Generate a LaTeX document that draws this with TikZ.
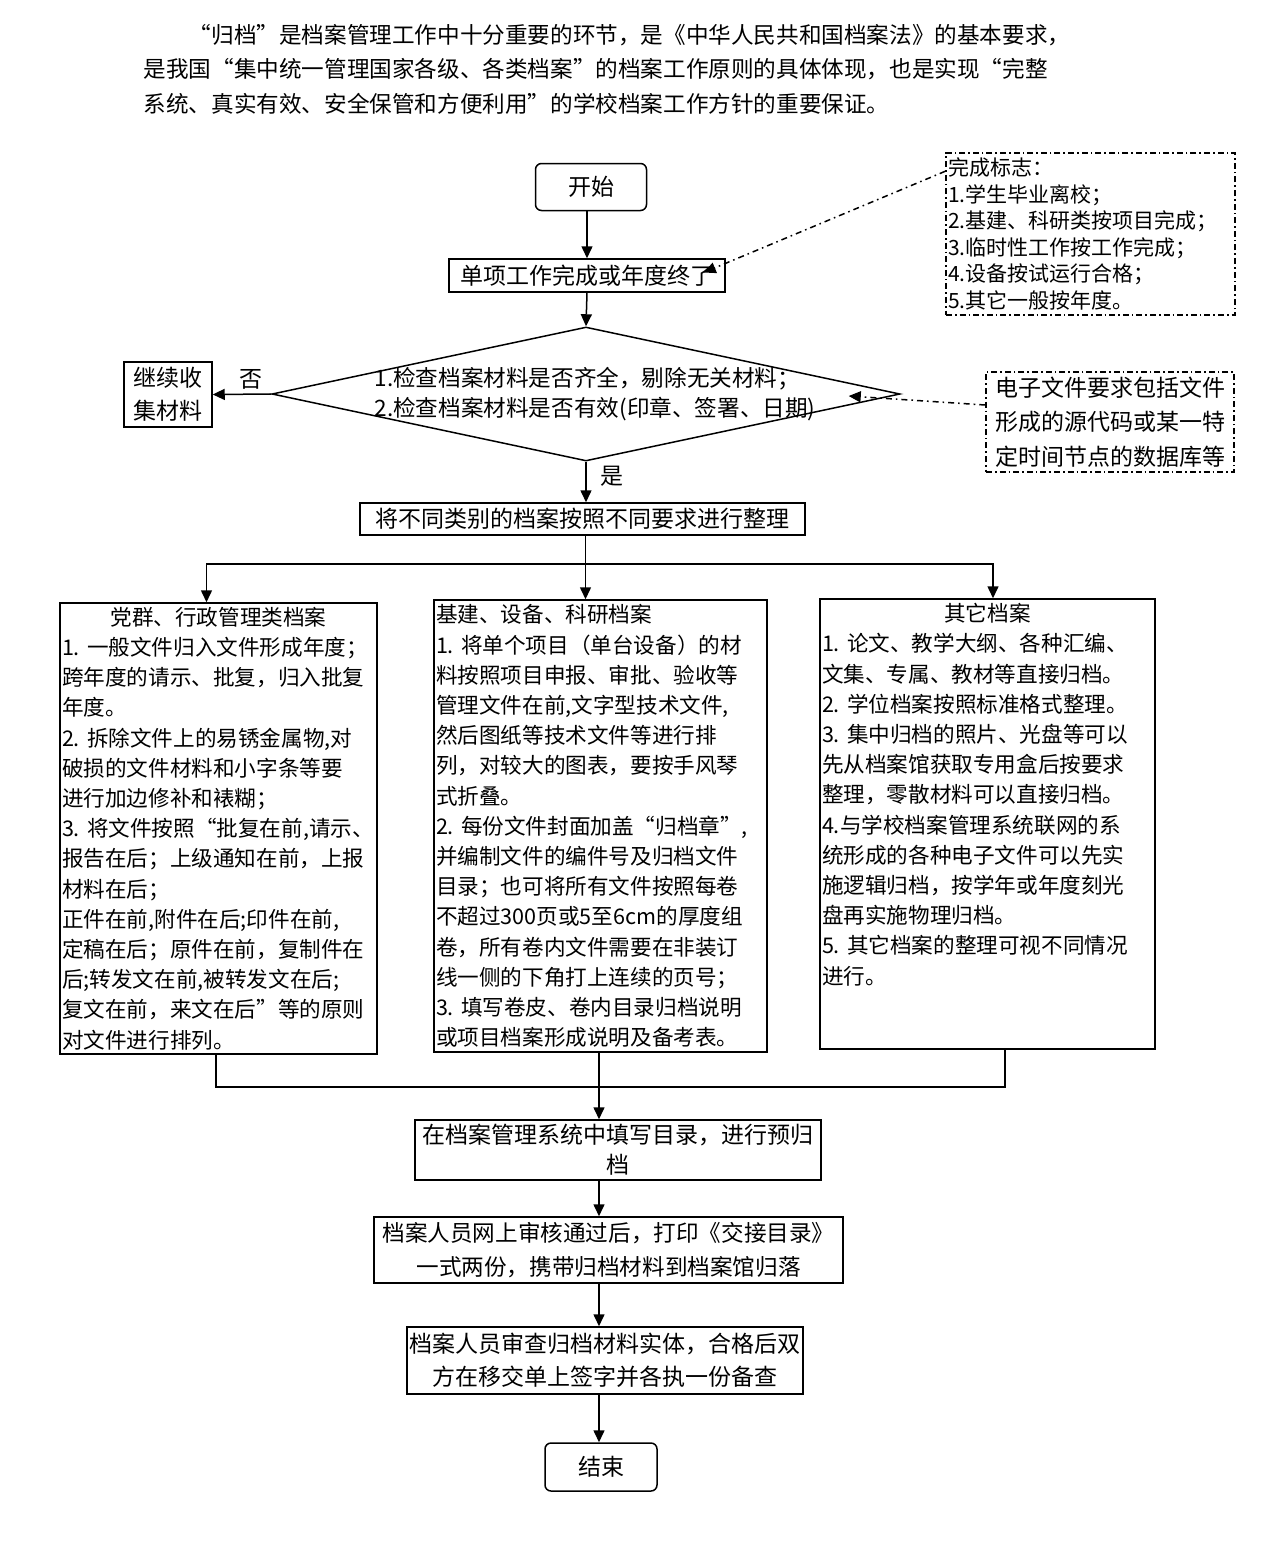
\documentclass[tikz,border=0pt]{standalone}
\usepackage{fontspec}
\setmainfont{Noto Sans CJK SC}
\usetikzlibrary{positioning,arrows.meta,calc,shapes.geometric}
\tikzset{
  flow/.style={>={Triangle[length=6pt,width=5.5pt]},
    line width=0.75pt},
  stepbox/.style={rectangle,draw,line width=0.75pt,inner sep=1pt,align=center,
    font=\fontsize{11.5}{16}\selectfont},
  endbox/.style={stepbox,rounded corners=3pt},
  colbox/.style={rectangle,draw,line width=0.75pt,inner xsep=1pt,inner ysep=0pt,
    align=left,font=\fontsize{10.8}{15.1}\selectfont},
  notebox/.style={rectangle,draw,line width=0.75pt,inner sep=1pt,
    dash pattern=on 3pt off 1.5pt on 0.8pt off 1.5pt},
  notelink/.style={->,dash pattern=on 3pt off 2pt on 0.8pt off 2pt},
  answer/.style={font=\fontsize{11.5}{14}\selectfont,inner sep=2pt}
}
\begin{document}
\begin{tikzpicture}[flow,x=0.5pt,y=-0.5pt]
  \useasboundingbox (0,0) rectangle (1261,1565);

  \node[anchor=west,align=left,inner sep=0pt,font=\fontsize{11.3}{17.25}\selectfont] (intro) at (143,69)
    {\hspace*{2em}“归档”是档案管理工作中十分重要的环节，是《中华人民共和国档案法》的基本要求，\\
     是我国“集中统一管理国家各级、各类档案”的档案工作原则的具体体现，也是实现“完整\\
     系统、真实有效、安全保管和方便利用”的学校档案工作方针的重要保证。};

  \node[endbox,minimum width=55.5pt,minimum height=23.5pt] (start) at (591,187) {开始};
  \node[stepbox,minimum width=138pt,minimum height=16.5pt] (done) at (587,275.5) {单项工作完成或年度终了};
  \node[notebox,text width=142.5pt,minimum height=81pt,align=left,
    font=\fontsize{10.5}{13.3}\selectfont] (sign) at (1090.5,234)
    {完成标志：\\1.学生毕业离校；\\2.基建、科研类按项目完成；\\3.临时性工作按工作完成；\\4.设备按试运行合格；\\5.其它一般按年度。};

  \node[diamond,draw,line width=0.75pt,minimum width=314pt,minimum height=67pt,inner sep=0pt] (chk) at (586,394) {};
  \node[align=left,inner sep=0pt,font=\fontsize{11.3}{15}\selectfont] (chktext) at (595,394)
    {1.检查档案材料是否齐全，剔除无关材料；\\2.检查档案材料是否有效(印章、签署、日期)};
  \node[stepbox,minimum width=44pt,minimum height=32.5pt,font=\fontsize{11.5}{16.5}\selectfont] (more) at (168,394.5) {继续收\\集材料};
  \node[notebox,minimum width=124pt,minimum height=50pt,align=center,
    font=\fontsize{11.5}{17.25}\selectfont] (efile) at (1110,422)
    {电子文件要求包括文件\\形成的源代码或某一特\\定时间节点的数据库等};

  \node[stepbox,minimum width=222.5pt,minimum height=16pt] (sort) at (582.5,519) {将不同类别的档案按照不同要求进行整理};

  \node[colbox,text width=156.5pt,minimum height=225.5pt] (dang) at (218.5,828.5)
    {\makebox[\hsize]{党群、行政管理类档案}\\
     1.~一般文件归入文件形成年度；\\
     跨年度的请示、批复，归入批复\\
     年度。\\
     2.~拆除文件上的易锈金属物,对\\
     破损的文件材料和小字条等要\\
     进行加边修补和裱糊；\\
     3.~将文件按照“批复在前,请示、\\
     报告在后；上级通知在前，上报\\
     材料在后；\\
     正件在前,附件在后;印件在前,\\
     定稿在后；原件在前，复制件在\\
     后;转发文在前,被转发文在后;\\
     复文在前，来文在后”等的原则\\
     对文件进行排列。};
  \node[colbox,text width=164.5pt,minimum height=226pt] (jian) at (600.5,826)
    {基建、设备、科研档案\\
     1.~将单个项目（单台设备）的材\\
     料按照项目申报、审批、验收等\\
     管理文件在前,文字型技术文件,\\
     然后图纸等技术文件等进行排\\
     列，对较大的图表，要按手风琴\\
     式折叠。\\
     2.~每份文件封面加盖“归档章”,\\
     并编制文件的编件号及归档文件\\
     目录；也可将所有文件按照每卷\\
     不超过300页或5至6cm的厚度组\\
     卷，所有卷内文件需要在非装订\\
     线一侧的下角打上连续的页号；\\
     3.~填写卷皮、卷内目录归档说明\\
     或项目档案形成说明及备考表。};
  \node[colbox,text width=165.5pt,minimum height=225pt] (qita) at (987.5,824)
    {\makebox[\hsize]{其它档案}\\
     1.~论文、教学大纲、各种汇编、\\
     文集、专属、教材等直接归档。\\
     2.~学位档案按照标准格式整理。\\
     3.~集中归档的照片、光盘等可以\\
     先从档案馆获取专用盒后按要求\\
     整理，零散材料可以直接归档。\\
     4.与学校档案管理系统联网的系\\
     统形成的各种电子文件可以先实\\
     施逻辑归档，按学年或年度刻光\\
     盘再实施物理归档。\\
     5.~其它档案的整理可视不同情况\\
     进行。\\
     \mbox{}\\
     \mbox{}};

  \node[stepbox,minimum width=203pt,minimum height=30pt,font=\fontsize{11.5}{15}\selectfont] (pre) at (618,1150)
    {在档案管理系统中填写目录，进行预归\\档};
  \node[stepbox,minimum width=234.5pt,minimum height=33pt,font=\fontsize{11.3}{17}\selectfont] (rev) at (608.5,1250)
    {档案人员网上审核通过后，打印《交接目录》\\一式两份，携带归档材料到档案馆归落};
  \node[stepbox,minimum width=198pt,minimum height=33.5pt,font=\fontsize{11.5}{16.5}\selectfont] (audit) at (605,1360.5)
    {档案人员审查归档材料实体，合格后双\\方在移交单上签字并各执一份备查};
  \node[endbox,minimum width=56pt,minimum height=24pt] (fin) at (601,1467) {结束};

  % main line
  \draw[->] (start.south -| done.north) -- (done.north);
  \draw[->] (done.south) -- (chk.north);
  \draw[->] (chk.west) -- node[answer,above,pos=0.35] (no) {否} (more.east);
  \draw[->] (chk.south) -- node[answer,right=5pt,pos=0.36] (yes) {是} (chk.south |- sort.north);
  \draw[notelink] ($(sign.north west)+(0,19)$) -- ($(done.east)+(-22,-3)$);
  \draw[notelink] ($(efile.west)+(0,-17)$) -- ($(chk.east)+(-52,2)$);

  % fan out
  \coordinate (fork) at ($(sort.south)+(3,28)$);
  \draw (sort.south -| fork) -- (fork);
  \draw[->] (fork) -| ($(dang.north)+(-12,0)$);
  \draw[->] (fork) -- (fork |- jian.north);
  \draw[->] (fork) -| ($(qita.north)+(5.5,0)$);

  % merge
  \coordinate (merge) at ($(jian.south)+(-1.5,34)$);
  \draw ($(dang.south)+(-2.5,0)$) |- (merge) -| ($(qita.south)+(17.5,0)$);
  \draw (jian.south -| merge) -- (merge);
  \draw[->] (merge) -- (merge |- pre.north);
  \draw[->] (pre.south -| merge) -- (rev.north -| merge);
  \draw[->] (rev.south -| merge) -- (audit.north -| merge);
  \draw[->] (audit.south -| merge) -- (fin.north -| merge);
\end{tikzpicture}
\end{document}
